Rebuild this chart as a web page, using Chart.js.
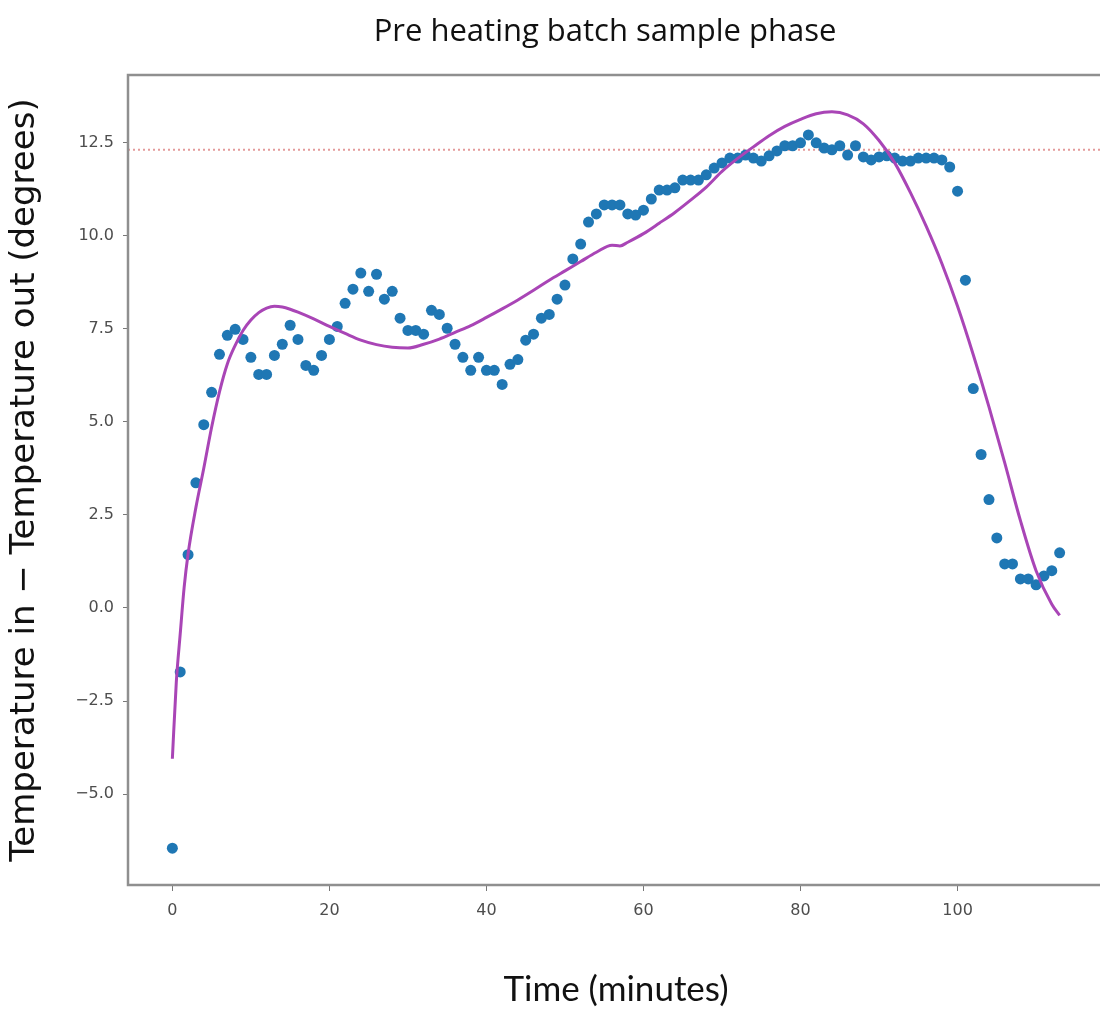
<!DOCTYPE html>
<html>
<head>
<meta charset="utf-8">
<title>Pre heating batch sample phase</title>
<script src="https://cdn.jsdelivr.net/npm/chart.js@4.4.0/dist/chart.umd.min.js"></script>
<style>
  html, body { margin: 0; padding: 0; background: #fff; overflow: hidden; }
  #chart { display: block; }
</style>
</head>
<body>
<canvas id="chart" width="1110" height="1011"></canvas>
<script>
const chartTitle = 'Pre heating batch sample phase';

// Sample times (minutes)
const sampleMinutes = [
    0, 1, 2, 3, 4, 5, 6, 7, 8, 9,
    10, 11, 12, 13, 14, 15, 16, 17, 18, 19,
    20, 21, 22, 23, 24, 25, 26, 27, 28, 29,
    30, 31, 32, 33, 34, 35, 36, 37, 38, 39,
    40, 41, 42, 43, 44, 45, 46, 47, 48, 49,
    50, 51, 52, 53, 54, 55, 56, 57, 58, 59,
    60, 61, 62, 63, 64, 65, 66, 67, 68, 69,
    70, 71, 72, 73, 74, 75, 76, 77, 78, 79,
    80, 81, 82, 83, 84, 85, 86, 87, 88, 89,
    90, 91, 92, 93, 94, 95, 96, 97, 98, 99,
    100, 101, 102, 103, 104, 105, 106, 107, 108, 109,
    110, 111, 112, 113
];

// Temperature in - temperature out, measured
const tempDiff = [
    -6.45, -1.72, 1.43, 3.36, 4.92, 5.79, 6.81, 7.32, 7.48, 7.21,
    6.73, 6.27, 6.27, 6.78, 7.08, 7.59, 7.21, 6.51, 6.38, 6.78,
    7.21, 7.56, 8.18, 8.56, 8.99, 8.50, 8.96, 8.29, 8.50, 7.78,
    7.45, 7.45, 7.35, 7.99, 7.88, 7.51, 7.08, 6.73, 6.38, 6.73,
    6.38, 6.38, 6.00, 6.54, 6.67, 7.19, 7.35, 7.78, 7.88, 8.29,
    8.67, 9.37, 9.77, 10.36, 10.58, 10.82, 10.82, 10.82, 10.58, 10.55,
    10.68, 10.98, 11.22, 11.22, 11.28, 11.49, 11.49, 11.49, 11.63, 11.81,
    11.95, 12.08, 12.08, 12.16, 12.08, 12.00, 12.14, 12.27, 12.41, 12.41,
    12.49, 12.70, 12.49, 12.35, 12.30, 12.41, 12.16, 12.41, 12.11, 12.03,
    12.11, 12.14, 12.08, 12.00, 12.00, 12.08, 12.08, 12.08, 12.03, 11.84,
    11.19, 8.80, 5.89, 4.12, 2.91, 1.88, 1.18, 1.18, 0.78, 0.78,
    0.62, 0.86, 1.00, 1.48
];

// Fitted curve
const fitMinutes = [
    0, 0.5, 1, 1.5, 2, 3, 4, 5, 6, 7, 8, 9, 10, 11, 12, 13, 14, 15, 16, 18, 20,
    22, 24, 26, 28, 30, 32, 34, 36, 38, 40, 42, 44, 46, 48, 50, 52, 54, 56,
    57, 58, 60, 62, 64, 66, 68, 70, 72, 74, 76, 78, 80, 82, 84, 86, 88, 90,
    92, 94, 96, 98, 100, 102, 104, 106, 108, 110, 112, 113
];
const fitValues = [
    -4.05, -2.0, -0.7, 0.55, 1.45, 2.7, 3.75, 4.85, 5.8, 6.55, 7.05, 7.45, 7.73, 7.93, 8.05, 8.1, 8.08, 8.02, 7.94, 7.76, 7.56,
    7.37, 7.19, 7.07, 7.0, 6.98, 7.08, 7.22, 7.4, 7.58, 7.8, 8.03, 8.27, 8.53, 8.8, 9.05, 9.3, 9.55, 9.74,
    9.72, 9.82, 10.05, 10.33, 10.62, 10.95, 11.3, 11.72, 12.07, 12.38, 12.68, 12.93, 13.12, 13.27, 13.32, 13.24, 13.0, 12.55,
    11.95, 11.15, 10.25, 9.25, 8.1, 6.8, 5.4, 3.9, 2.35, 1.0, 0.1, -0.2
];

// Reference level (dotted red line)
const refLevel = 12.3;

// Axis ranges and ticks
const xRange = [-5.65, 118.65];
const yRange = [-7.44, 14.31];
const xTickStep = 20;
const yTickStep = 2.5;

const measured = sampleMinutes.map((m, i) => ({ x: m, y: tempDiff[i] }));
const fitted = fitMinutes.map((m, i) => ({ x: m, y: fitValues[i] }));
const refLine = [{ x: xRange[0], y: refLevel }, { x: xRange[1], y: refLevel }];

// Frame round the plot area (matplotlib spines) and the title above it
const framePlugin = {
    id: 'frame',
    afterDatasetsDraw(chart) {
        const { ctx, chartArea } = chart;
        ctx.save();
        ctx.strokeStyle = '#8f8f8f';
        ctx.lineWidth = 2.5;
        ctx.strokeRect(chartArea.left, chartArea.top, chartArea.right - chartArea.left, chartArea.bottom - chartArea.top);
        ctx.restore();
    },
    afterDraw(chart) {
        const { ctx, chartArea } = chart;
        ctx.save();
        ctx.fillStyle = '#111';
        ctx.font = '31px "Open Sans"';
        ctx.textAlign = 'center';
        ctx.textBaseline = 'alphabetic';
        ctx.fillText(chartTitle, (chartArea.left + chartArea.right) / 2 - 11, 41);
        ctx.restore();
    }
};

const ctx = document.getElementById('chart').getContext('2d');
new Chart(ctx, {
    type: 'scatter',
    data: {
        datasets: [
            {
                label: 'reference',
                data: refLine,
                showLine: true,
                borderColor: '#e49a9a',
                borderWidth: 2,
                borderDash: [2, 3],
                pointRadius: 0,
                order: 3
            },
            {
                label: 'measured',
                data: measured,
                backgroundColor: '#1f77b4',
                borderColor: '#1f77b4',
                pointRadius: 5.5,
                borderWidth: 0,
                order: 2
            },
            {
                label: 'fit',
                data: fitted,
                showLine: true,
                borderColor: '#a945b6',
                borderWidth: 3,
                pointRadius: 0,
                cubicInterpolationMode: 'monotone',
                order: 1
            }
        ]
    },
    options: {
        responsive: false,
        animation: false,
        layout: { padding: { top: 75, right: 6 } },
        plugins: {
            legend: { display: false },
            tooltip: { enabled: false },
            title: { display: false }
        },
        scales: {
            x: {
                type: 'linear',
                min: xRange[0],
                max: xRange[1],
                afterFit(scale) { scale.height = 126; },
                grid: { display: true, drawOnChartArea: false, drawTicks: true, tickLength: 6, color: '#777' },
                border: { display: false },
                ticks: {
                    stepSize: xTickStep,
                    includeBounds: false,
                    padding: 10,
                    color: '#4d4d4d',
                    font: { family: 'DejaVu Sans', size: 16 },
                    callback: v => String(v)
                },
                title: {
                    display: true,
                    text: 'Time (minutes)',
                    color: '#111',
                    font: { family: 'Lato', size: 35 },
                    padding: { top: 0, bottom: 0 }
                }
            },
            y: {
                type: 'linear',
                min: yRange[0],
                max: yRange[1],
                afterFit(scale) { scale.width = 128; },
                grid: { display: true, drawOnChartArea: false, drawTicks: true, tickLength: 5, color: '#777' },
                border: { display: false },
                ticks: {
                    stepSize: yTickStep,
                    includeBounds: false,
                    padding: 9,
                    color: '#4d4d4d',
                    font: { family: 'DejaVu Sans', size: 16 },
                    callback: v => (v < 0 ? '\u2212' : '') + Math.abs(v).toFixed(1)
                },
                title: {
                    display: true,
                    text: 'Temperature in \u2212 Temperature out (degrees)',
                    color: '#111',
                    font: { family: 'DejaVu Sans', size: 34 },
                    padding: { top: 5 }
                }
            }
        }
    },
    plugins: [framePlugin]
});
</script>
</body>
</html>
